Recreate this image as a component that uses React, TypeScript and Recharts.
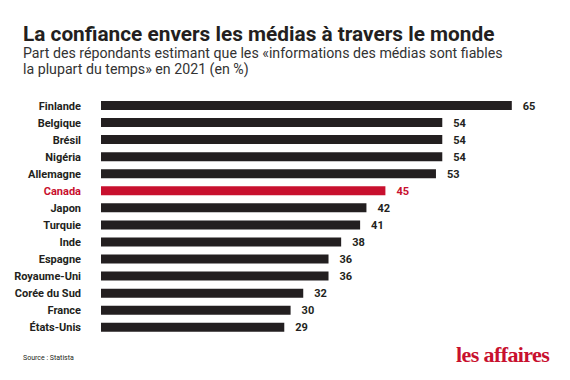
import { BarChart, Bar, XAxis, YAxis, Cell, LabelList } from 'recharts';

const countries = ['Finlande', 'Belgique', 'Brésil', 'Nigéria', 'Allemagne', 'Canada', 'Japon', 'Turquie', 'Inde', 'Espagne', 'Royaume-Uni', 'Corée du Sud', 'France', 'États-Unis'];
const trust = [65, 54, 54, 54, 53, 45, 42, 41, 38, 36, 36, 32, 30, 29];
const highlight = 'Canada';

const DARK = '#231f20';
const RED = '#c8102e';

const data = countries.map((name, i) => ({ name, value: trust[i] }));

// country names, right aligned against the bars
const CountryTick = (props: any) => {
  const { x, y, payload } = props;
  const isHl = payload.value === highlight;
  return (
    <text
      x={x - 12}
      y={y}
      dy={4}
      textAnchor="end"
      fontFamily="Roboto"
      fontWeight={700}
      fontSize={11}
      fill={isHl ? RED : DARK}
    >
      {payload.value}
    </text>
  );
};

const ValueLabel = (props: any) => {
  const { x, y, width, height, value, index } = props;
  const isHl = countries[index] === highlight;
  return (
    <text
      x={x + width + 11}
      y={y + height / 2}
      dy={4}
      fontFamily="Roboto"
      fontWeight={700}
      fontSize={11}
      fill={isHl ? RED : DARK}
    >
      {value}
    </text>
  );
};

export default function App() {
  return (
    <div style={{ position: 'absolute', left: 0, top: 0, width: 570, height: 380, background: '#fff', overflow: 'hidden' }}>
      <div style={{ position: 'absolute', left: 23, top: 24, fontFamily: 'Roboto', fontWeight: 700, fontSize: 20.8, color: DARK, whiteSpace: 'nowrap', lineHeight: '20px' }}>
        La confiance envers les médias à travers le monde
      </div>
      <div style={{ position: 'absolute', left: 23, top: 44.5, fontFamily: 'Roboto', fontSize: 14.2, color: '#333', lineHeight: '16px', whiteSpace: 'nowrap' }}>
        Part des répondants estimant que les «informations des médias sont fiables
        <br />
        la plupart du temps» en 2021 (en %)
      </div>

      <div style={{ position: 'absolute', left: 0, top: 0 }}>
        <BarChart
          width={570}
          height={380}
          data={data}
          layout="vertical"
          margin={{ top: 97, right: 26.6, bottom: 44.2, left: 0 }}
          barSize={9}
        >
          <XAxis type="number" domain={[0, 70]} hide />
          <YAxis
            type="category"
            dataKey="name"
            width={101}
            axisLine={false}
            tickLine={false}
            interval={0}
            tick={<CountryTick />}
          />
          <Bar dataKey="value" isAnimationActive={false}>
            {data.map((d) => (
              <Cell key={d.name} fill={d.name === highlight ? RED : DARK} />
            ))}
            <LabelList dataKey="value" content={<ValueLabel />} />
          </Bar>
        </BarChart>
      </div>

      <div style={{ position: 'absolute', left: 23, top: 354, fontFamily: 'Roboto', fontSize: 7, color: DARK }}>
        Source : Statista
      </div>
      <div style={{ position: 'absolute', left: 456, top: 343, fontFamily: 'Liberation Serif', fontWeight: 700, fontSize: 22, color: RED, letterSpacing: -0.6, lineHeight: '24px', whiteSpace: 'nowrap' }}>
        les affaires
      </div>
    </div>
  );
}
